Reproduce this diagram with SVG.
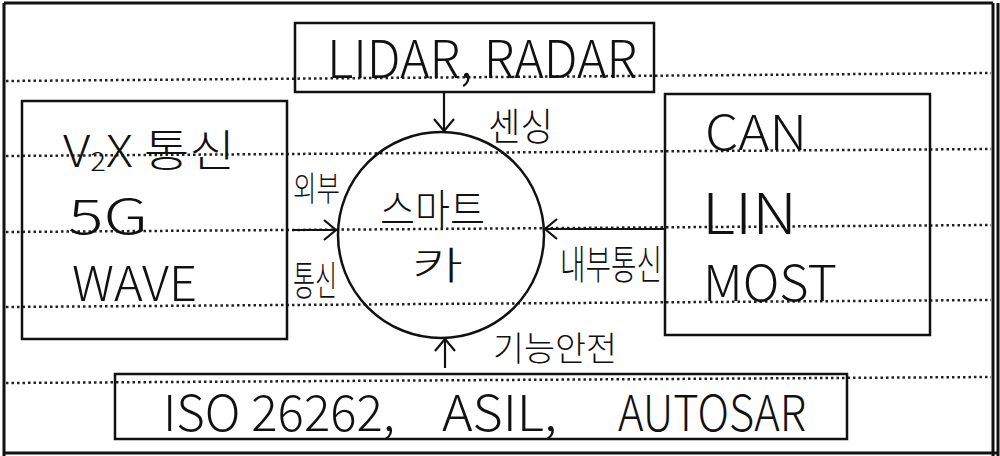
<svg xmlns="http://www.w3.org/2000/svg" width="1000" height="456" viewBox="0 0 1000 456">
<defs>
<style>
.frame{fill:none;stroke:#111;stroke-width:3}
.rule{fill:none;stroke:#222;stroke-width:2.5;stroke-dasharray:2.5 3}
.box{fill:none;stroke:#111;stroke-width:2.5}
.conn{fill:none;stroke:#111;stroke-width:2.2}
.lat{font-family:"Noto Sans CJK KR","Noto Sans","Liberation Sans",sans-serif;font-weight:300;fill:#111}
.kr{font-family:"Noto Sans CJK KR","Noto Sans",sans-serif;font-weight:300;fill:#111}
</style>
<marker id="arr" markerUnits="userSpaceOnUse" markerWidth="16" markerHeight="24" refX="13" refY="11" orient="auto">
<path d="M1,1 L13,11 L1,21" fill="none" stroke="#111" stroke-width="2.2"/>
</marker>
</defs>
<rect width="1000" height="456" fill="#fff"/>
<g id="paper">
<line class="frame" x1="4" y1="3" x2="993" y2="3"/>
<line class="frame" x1="4" y1="3" x2="4" y2="456"/>
<line class="frame" x1="993" y1="3" x2="993" y2="456"/>
<line class="frame" x1="998" y1="3" x2="998" y2="456" stroke-width="2"/>
<line class="frame" x1="4" y1="453" x2="998" y2="453"/>
<line class="rule" x1="6" y1="81" x2="991" y2="73"/>
<line class="rule" x1="6" y1="156" x2="991" y2="149"/>
<line class="rule" x1="6" y1="232" x2="991" y2="225"/>
<line class="rule" x1="6" y1="307" x2="991" y2="300"/>
<line class="rule" x1="6" y1="383" x2="991" y2="377"/>
</g>
<g id="connectors">
<line class="conn" x1="444" y1="92" x2="444" y2="131" marker-end="url(#arr)"/>
<line class="conn" x1="292" y1="230" x2="336" y2="230" stroke-width="3" marker-end="url(#arr)"/>
<line class="conn" x1="664" y1="229" x2="545" y2="229" stroke-width="3" marker-end="url(#arr)"/>
<line class="conn" x1="445" y1="368" x2="445" y2="339" marker-end="url(#arr)"/>
<text class="kr" x="488" y="140" font-size="38" textLength="65" lengthAdjust="spacingAndGlyphs">센싱</text>
<text class="kr" x="293" y="201" font-size="34" textLength="47" lengthAdjust="spacingAndGlyphs">외부</text>
<text class="kr" x="293" y="295" font-size="40" textLength="44" lengthAdjust="spacingAndGlyphs">통신</text>
<text class="kr" x="560" y="279" font-size="40" textLength="102" lengthAdjust="spacingAndGlyphs">내부통신</text>
<text class="kr" x="493" y="361" font-size="34" textLength="124" lengthAdjust="spacingAndGlyphs">기능안전</text>
</g>
<g id="sensors">
<rect class="box" x="295" y="23" width="359" height="69"/>
<text class="lat" x="327" y="78" font-size="52" textLength="310" lengthAdjust="spacingAndGlyphs">LIDAR, RADAR</text>
</g>
<g id="external">
<rect class="box" x="22" y="101" width="265" height="238"/>
<text class="kr" x="63" y="167" font-size="44" textLength="172" lengthAdjust="spacingAndGlyphs">V<tspan font-size="26" dy="4">2</tspan><tspan dy="-4">X 통신</tspan></text>
<text class="lat" x="68" y="234" font-size="48" textLength="80" lengthAdjust="spacingAndGlyphs">5G</text>
<text class="lat" x="72" y="301" font-size="48" textLength="125" lengthAdjust="spacingAndGlyphs">WAVE</text>
</g>
<g id="smartcar">
<circle class="box" cx="441" cy="235" r="103" stroke-width="2.2"/>
<text class="kr" x="380" y="225" font-size="42" textLength="105" lengthAdjust="spacingAndGlyphs">스마트</text>
<text class="kr" x="412" y="279" font-size="38" textLength="51" lengthAdjust="spacingAndGlyphs">카</text>
</g>
<g id="internal">
<rect class="box" x="665" y="94" width="265" height="241"/>
<text class="lat" x="705" y="150" font-size="48" textLength="102" lengthAdjust="spacingAndGlyphs">CAN</text>
<text class="lat" x="702" y="234" font-size="56" textLength="95" lengthAdjust="spacingAndGlyphs">LIN</text>
<text class="lat" x="703" y="301" font-size="50" textLength="134" lengthAdjust="spacingAndGlyphs">MOST</text>
</g>
<g id="safety">
<rect class="box" x="115" y="374" width="732" height="65"/>
<text class="lat" y="431" font-size="50"><tspan x="163" textLength="232" lengthAdjust="spacingAndGlyphs">ISO 26262,</tspan><tspan x="442" textLength="115" lengthAdjust="spacingAndGlyphs">ASIL,</tspan><tspan x="618" textLength="188" lengthAdjust="spacingAndGlyphs">AUTOSAR</tspan></text>
</g>
</svg>
